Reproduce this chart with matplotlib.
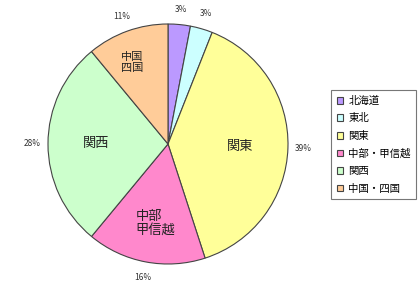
import numpy as np
import matplotlib
matplotlib.use('Agg')
import matplotlib.pyplot as plt

plt.rcParams['font.family'] = ['Noto Sans CJK JP', 'DejaVu Sans']

# regional share (percent), clockwise from 12 o'clock
regions = ['北海道', '東北', '関東', '中部・甲信越', '関西', '中国・四国']
inner_labels = ['', '', '関東', '中部\n甲信越', '関西', '中国\n四国']
shares = [3, 3, 39, 16, 28, 11]
colors = ['#BB99FF', '#CCFFFF', '#FFFF99', '#FF88CC', '#CCFFCC', '#FFCC99']

cx, cy, r = 168, 141, 120

fig = plt.figure(figsize=(4.2, 2.85), dpi=100)
ax = fig.add_axes([0, 0, 1, 1])

wedges, texts, autotexts = ax.pie(
    shares, colors=colors, labels=inner_labels, startangle=90, counterclock=False,
    center=(cx, cy), radius=r, labeldistance=0.6,
    autopct='%d%%', pctdistance=1.13,
    wedgeprops=dict(edgecolor='#444444', linewidth=0.8),
    textprops=dict(fontsize=9.5, color='#222222'))

for t in texts:
    t.set_horizontalalignment('center')
    t.set_verticalalignment('center')
    t.set_multialignment('left')
    t.set_linespacing(1.1)
for t in autotexts:
    t.set_fontsize(6)
    t.set_color('#333333')

# Excel puts the 中国・四国 label further out, toward the wide part of the slice
ang = np.deg2rad(114)
texts[5].set_position((cx + 0.74 * r * np.cos(ang), cy + 0.74 * r * np.sin(ang)))
texts[5].set_fontsize(8)
ang = np.deg2rad(-99)
texts[3].set_position((cx + 0.67 * r * np.cos(ang), cy + 0.67 * r * np.sin(ang)))

ax.set_xlim(0, 420)
ax.set_ylim(0, 285)
ax.set_aspect('equal')
ax.axis('off')

leg = fig.legend(wedges, regions, loc='upper left', bbox_to_anchor=(331 / 420, 1 - 90 / 285),
                 fontsize=7.5, frameon=True, fancybox=False, handlelength=0.6, handleheight=0.6,
                 handletextpad=0.5, labelspacing=0.72, borderpad=0.55, borderaxespad=0)
leg.get_frame().set_edgecolor('#555555')
leg.get_frame().set_linewidth(0.8)

fig.savefig('out.png', dpi=100)
